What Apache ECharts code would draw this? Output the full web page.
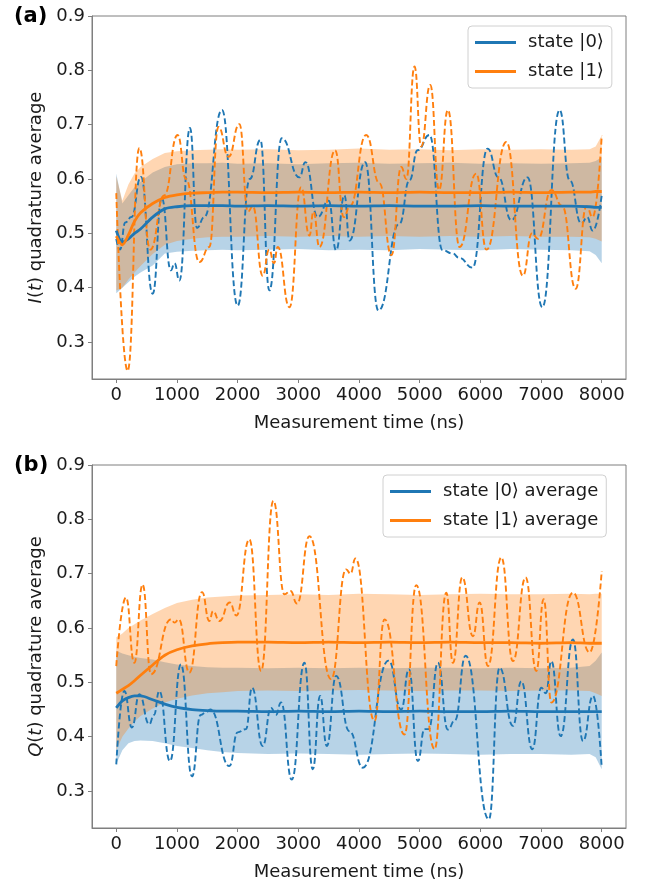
<!DOCTYPE html>
<html>
<head>
<meta charset="utf-8">
<script src="https://cdn.jsdelivr.net/npm/echarts@6/dist/echarts.min.js"></script>
<style>html,body{margin:0;padding:0;background:#fff}#c{width:646px;height:886px}</style>
</head>
<body>
<div id="c"></div>
<script>
// ---------- data ----------
const xTicks = [0,1000,2000,3000,4000,5000,6000,7000,8000];
const yTicks = [0.3,0.4,0.5,0.6,0.7,0.8,0.9];
const legendA = ['state |0⟩', 'state |1⟩'];
const legendB = ['state |0⟩ average', 'state |1⟩ average'];

// time grid for averages and bands
const T = [0,100,200,300,400,600,800,1000,1250,1500,1750,2000,2500,3000,3500,4000,4500,5000,5500,6000,6500,7000,7500,7800,7900,8000];

// panel (a): I(t)
const aBlueMean   = [0.505,0.484,0.49,0.5,0.508,0.53,0.545,0.549,0.551,0.551,0.551,0.550,0.551,0.550,0.551,0.550,0.551,0.550,0.550,0.551,0.550,0.550,0.550,0.549,0.548,0.548];
const aOrangeMean = [0.495,0.479,0.497,0.522,0.538,0.555,0.566,0.571,0.574,0.575,0.576,0.576,0.575,0.576,0.575,0.576,0.575,0.576,0.575,0.575,0.576,0.575,0.576,0.576,0.577,0.577];
const aBlueUpper  = [0.61,0.555,0.57,0.585,0.595,0.612,0.622,0.627,0.629,0.629,0.63,0.628,0.629,0.627,0.629,0.63,0.628,0.629,0.63,0.628,0.629,0.628,0.629,0.63,0.633,0.64];
const aBlueLower  = [0.39,0.40,0.41,0.42,0.428,0.441,0.463,0.466,0.468,0.469,0.47,0.469,0.47,0.471,0.469,0.47,0.469,0.471,0.47,0.469,0.471,0.47,0.469,0.467,0.46,0.445];
const aOrangeUpper= [0.605,0.56,0.59,0.61,0.622,0.637,0.648,0.651,0.653,0.654,0.655,0.654,0.655,0.653,0.654,0.656,0.654,0.655,0.653,0.655,0.654,0.655,0.654,0.655,0.66,0.68];
const aOrangeLower= [0.395,0.40,0.415,0.428,0.44,0.462,0.479,0.486,0.49,0.493,0.494,0.494,0.495,0.494,0.495,0.494,0.495,0.494,0.495,0.494,0.495,0.494,0.494,0.493,0.49,0.485];

const aBlueTrace = [[0,0.49],[60,0.47],[150,0.52],[250,0.53],[407,0.604],[600,0.389],[750,0.565],[900,0.432],[960,0.445],[1040,0.413],[1215,0.694],[1330,0.51],[1450,0.53],[1743,0.727],[2001,0.367],[2200,0.6],[2375,0.672],[2523,0.395],[2727,0.675],[3018,0.603],[3117,0.631],[3320,0.53],[3500,0.56],[3623,0.469],[3760,0.57],[3843,0.487],[4101,0.631],[4320,0.358],[4668,0.518],[4833,0.598],[4965,0.653],[5162,0.681],[5377,0.469],[5542,0.463],[5650,0.455],[5872,0.437],[6119,0.656],[6300,0.603],[6510,0.524],[6778,0.603],[7021,0.364],[7306,0.727],[7471,0.598],[7664,0.518],[7760,0.53],[7851,0.505],[8000,0.57]];
const aOrangeTrace = [[0,0.574],[187,0.247],[380,0.657],[560,0.47],[790,0.57],[1011,0.681],[1150,0.6],[1369,0.447],[1534,0.475],[1683,0.696],[1850,0.641],[2029,0.701],[2170,0.54],[2250,0.55],[2413,0.422],[2520,0.47],[2600,0.445],[2660,0.475],[2854,0.364],[3046,0.585],[3183,0.496],[3250,0.54],[3348,0.475],[3607,0.653],[3750,0.53],[3850,0.55],[4118,0.681],[4338,0.592],[4535,0.46],[4696,0.622],[4780,0.6],[4915,0.807],[5025,0.66],[5174,0.773],[5320,0.58],[5465,0.727],[5657,0.475],[5932,0.61],[6100,0.47],[6428,0.668],[6701,0.422],[6850,0.5],[6950,0.49],[7170,0.58],[7350,0.55],[7570,0.398],[7750,0.55],[7850,0.53],[8000,0.68]];

// panel (b): Q(t)
const bBlueMean   = [0.453,0.466,0.472,0.475,0.475,0.468,0.46,0.454,0.45,0.448,0.447,0.447,0.446,0.447,0.446,0.447,0.446,0.447,0.446,0.446,0.447,0.446,0.446,0.446,0.446,0.446];
const bOrangeMean = [0.48,0.487,0.494,0.503,0.513,0.532,0.55,0.56,0.567,0.571,0.573,0.574,0.574,0.573,0.574,0.573,0.574,0.573,0.574,0.573,0.573,0.572,0.573,0.572,0.572,0.572];
const bBlueUpper  = [0.558,0.553,0.55,0.547,0.545,0.542,0.537,0.533,0.53,0.528,0.527,0.527,0.526,0.527,0.526,0.527,0.526,0.527,0.527,0.526,0.527,0.526,0.527,0.53,0.54,0.555];
const bBlueLower  = [0.35,0.375,0.388,0.392,0.393,0.392,0.388,0.383,0.379,0.375,0.372,0.37,0.368,0.369,0.368,0.367,0.368,0.369,0.368,0.367,0.368,0.368,0.367,0.368,0.362,0.34];
const bOrangeUpper= [0.583,0.59,0.6,0.607,0.614,0.626,0.637,0.646,0.652,0.656,0.658,0.66,0.661,0.662,0.661,0.663,0.662,0.661,0.662,0.663,0.662,0.662,0.663,0.662,0.663,0.663];
const bOrangeLower= [0.375,0.40,0.415,0.428,0.438,0.452,0.463,0.47,0.476,0.48,0.482,0.484,0.485,0.484,0.485,0.486,0.485,0.484,0.485,0.485,0.484,0.485,0.485,0.484,0.48,0.475];

const bBlueTrace = [[0,0.349],[132,0.484],[258,0.417],[380,0.478],[544,0.423],[620,0.44],[709,0.484],[885,0.355],[1066,0.533],[1248,0.327],[1390,0.44],[1480,0.445],[1550,0.45],[1864,0.346],[2000,0.408],[2138,0.414],[2237,0.49],[2413,0.383],[2551,0.453],[2630,0.44],[2716,0.463],[2892,0.321],[3101,0.536],[3238,0.34],[3359,0.475],[3469,0.383],[3623,0.512],[3843,0.41],[4063,0.343],[4489,0.54],[4696,0.45],[4822,0.524],[4970,0.355],[5080,0.414],[5150,0.414],[5300,0.536],[5465,0.413],[5580,0.43],[5757,0.549],[6140,0.248],[6317,0.527],[6537,0.42],[6675,0.502],[6856,0.377],[7004,0.49],[7080,0.48],[7170,0.539],[7323,0.401],[7526,0.579],[7691,0.392],[7856,0.475],[8000,0.343]];
const bOrangeTrace = [[0,0.53],[160,0.656],[297,0.536],[434,0.68],[572,0.515],[902,0.616],[960,0.61],[1030,0.616],[1204,0.518],[1413,0.666],[1534,0.613],[1594,0.631],[1700,0.613],[1869,0.647],[1979,0.623],[2193,0.763],[2386,0.521],[2589,0.834],[2771,0.662],[2870,0.668],[2980,0.645],[3183,0.769],[3540,0.506],[3788,0.708],[3860,0.70],[3942,0.728],[4255,0.429],[4420,0.616],[4750,0.404],[4943,0.679],[5245,0.377],[5438,0.665],[5548,0.536],[5702,0.693],[5878,0.585],[5988,0.647],[6125,0.53],[6345,0.73],[6537,0.539],[6746,0.693],[6922,0.521],[7043,0.653],[7170,0.463],[7526,0.665],[7801,0.555],[8000,0.705]];

// ---------- build ----------
const BLUE = '#1f77b4', ORANGE = '#ff7f0e';
const FONT = 'DejaVu Sans';
const TXT = '#1a1a1a';
const zip = (xs, ys) => xs.map((x, i) => [x, ys[i]]);

function band(idx, upper, lower, color) {
  return { type: 'custom', xAxisIndex: idx, yAxisIndex: idx, data: [[T[0], lower[0]]], silent: true, z: 1, clip: true,
    renderItem: function (params, api) {
      const top = T.map((t, i) => api.coord([t, upper[i]]));
      const bot = T.map((t, i) => api.coord([t, lower[i]])).reverse();
      return { type: 'polygon', shape: { points: top.concat(bot) }, style: { fill: color, opacity: 0.32 } };
    } };
}
function trace(idx, data, color) {
  return { type: 'line', xAxisIndex: idx, yAxisIndex: idx, data: data, showSymbol: false, symbol: 'none',
    smooth: 0.5, smoothMonotone: 'x', color: color,
    lineStyle: { color: color, width: 1.9, type: [6, 3] }, z: 3, silent: true };
}
function mean(idx, name, vals, color) {
  return { type: 'line', name: name, xAxisIndex: idx, yAxisIndex: idx, data: zip(T, vals),
    showSymbol: false, symbol: 'none', smooth: 0.3, color: color,
    lineStyle: { color: color, width: 2.8 }, z: 4 };
}

const AX = '#7f7f7f';
function xAx(idx) {
  return { type: 'value', gridIndex: idx, min: -400, max: 8400,
    name: 'Measurement time (ns)', nameLocation: 'middle', nameGap: 35,
    nameTextStyle: { fontFamily: FONT, fontSize: 18, color: TXT },
    axisLine: { show: true, onZero: false, lineStyle: { color: AX, width: 1 } },
    axisTick: { show: true, length: 4, customValues: xTicks, lineStyle: { color: AX } },
    axisLabel: { customValues: xTicks, margin: 7, fontFamily: FONT, fontSize: 18, color: TXT,
      formatter: v => String(v) },
    splitLine: { show: false } };
}
function yAx(idx, letter) {
  return { type: 'value', gridIndex: idx, min: 0.232, max: 0.9,
    name: '{it|' + letter + '}({it|t}) quadrature average', nameLocation: 'middle', nameGap: 47, nameRotate: 90,
    nameTextStyle: { fontFamily: FONT, fontSize: 18, color: TXT,
      rich: { it: { fontFamily: FONT, fontSize: 18, fontStyle: 'italic', color: TXT } } },
    axisLine: { show: true, onZero: false, lineStyle: { color: AX, width: 1 } },
    axisTick: { show: true, length: 4, customValues: yTicks, lineStyle: { color: AX } },
    axisLabel: { customValues: yTicks, margin: 7, fontFamily: FONT, fontSize: 18, color: TXT,
      formatter: v => v.toFixed(1) },
    splitLine: { show: false } };
}
function leg(names, left, top) {
  return { data: names, orient: 'vertical', left: left, top: top, icon: 'rect', itemWidth: 41, itemHeight: 3,
    itemGap: 8, padding: [6, 8, 6, 7], borderColor: '#d0d0d0', borderWidth: 1, borderRadius: 4,
    backgroundColor: 'rgba(255,255,255,0.85)', selectedMode: false,
    textStyle: { fontFamily: FONT, fontSize: 18, color: TXT, lineHeight: 21, padding: [0, 0, 0, 7] } };
}

const series = [
  band(0, aBlueUpper, aBlueLower, BLUE),
  band(0, aOrangeUpper, aOrangeLower, ORANGE),
  trace(0, aBlueTrace, BLUE), trace(0, aOrangeTrace, ORANGE),
  mean(0, legendA[0], aBlueMean, BLUE), mean(0, legendA[1], aOrangeMean, ORANGE),
  band(1, bBlueUpper, bBlueLower, BLUE),
  band(1, bOrangeUpper, bOrangeLower, ORANGE),
  trace(1, bBlueTrace, BLUE), trace(1, bOrangeTrace, ORANGE),
  mean(1, legendB[0], bBlueMean, BLUE), mean(1, legendB[1], bOrangeMean, ORANGE)
];

const chart = echarts.init(document.getElementById('c'), null, { renderer: 'canvas' });
chart.setOption({
  animation: false,
  backgroundColor: '#fff',
  grid: [
    { left: 92, top: 16, width: 534, height: 363, show: true, borderColor: AX, borderWidth: 1, backgroundColor: 'transparent' },
    { left: 92, top: 465, width: 534, height: 363, show: true, borderColor: AX, borderWidth: 1, backgroundColor: 'transparent' }
  ],
  xAxis: [xAx(0), xAx(1)],
  yAxis: [yAx(0, 'I'), yAx(1, 'Q')],
  legend: [leg(legendA, 468, 26), leg(legendB, 383, 475)],
  graphic: [
    { type: 'text', left: 14, top: 6, style: { text: '(a)', font: 'bold 21px "DejaVu Sans"', fill: '#000' } },
    { type: 'text', left: 14, top: 455, style: { text: '(b)', font: 'bold 21px "DejaVu Sans"', fill: '#000' } }
  ],
  series: series
});
</script>
</body>
</html>
